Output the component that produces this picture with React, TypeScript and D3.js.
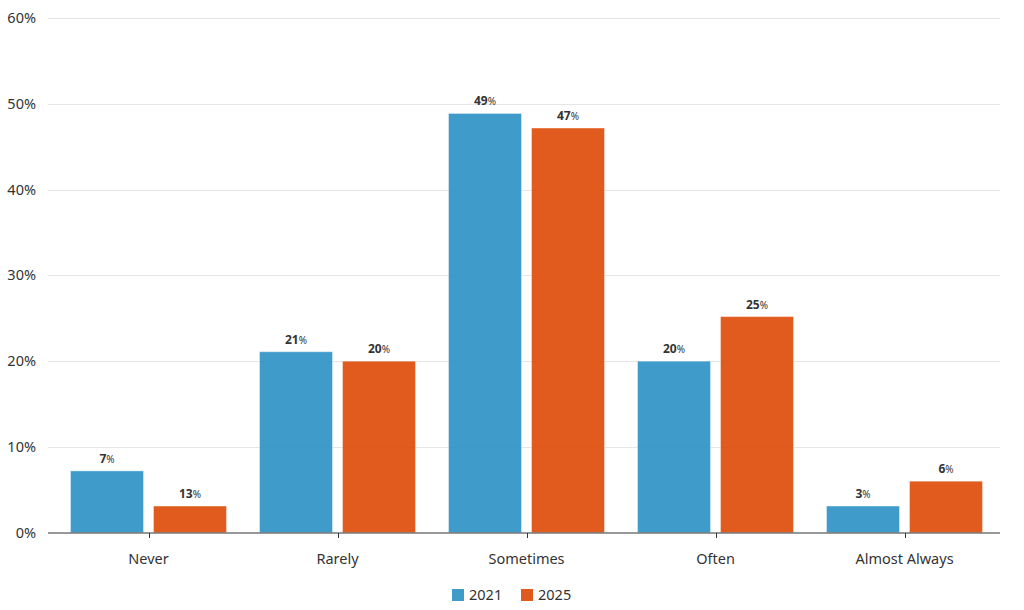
import { useEffect, useRef } from 'react';
import * as d3 from 'd3';

const categories = ['Never', 'Rarely', 'Sometimes', 'Often', 'Almost Always'];
const seriesNames = ['2021', '2025'];
const values2021 = [7.2, 21.1, 48.9, 20, 3.1];
const values2025 = [3.1, 20, 47.2, 25.2, 6];
const labels2021 = ['7', '21', '49', '20', '3'];
const labels2025 = ['13', '20', '47', '25', '6'];
const yTicks = [0, 10, 20, 30, 40, 50, 60];
const colors = ['#2f93c5', '#de4c0b'];
const legendColors = ['#3f9bc9', '#e05a1e'];

export default function App() {
    const svgRef = useRef<SVGSVGElement>(null);

    useEffect(() => {
        if (!svgRef.current) return;
        document.body.style.margin = '0';

        const svg = d3.select(svgRef.current);
        svg.selectAll('*').remove();

        const width = 1024;
        const height = 610;
        const plotLeft = 48;
        const plotRight = 1000;

        const x0 = d3.scaleBand<string>()
            .domain(categories)
            .range([54, 999]);

        const x1 = d3.scaleBand<string>()
            .domain(seriesNames)
            .range([16.5, 172.5])
            .paddingInner(0.1205);

        const y = d3.scaleLinear()
            .domain([0, 60])
            .range([532.6, 18.3]);

        const font = '"Noto Sans", "Open Sans", sans-serif';

        svg.attr('width', width).attr('height', height).style('font-family', font);

        // Grid lines
        svg.append('g')
            .selectAll('line')
            .data(yTicks.filter(t => t > 0))
            .enter()
            .append('line')
            .attr('x1', plotLeft)
            .attr('x2', plotRight)
            .attr('y1', d => Math.round(y(d)) + 0.5)
            .attr('y2', d => Math.round(y(d)) + 0.5)
            .attr('stroke', '#e6e6e6')
            .attr('stroke-width', 1);

        // Y labels
        svg.append('g')
            .selectAll('text')
            .data(yTicks)
            .enter()
            .append('text')
            .attr('x', 36)
            .attr('y', d => y(d) + 5)
            .attr('text-anchor', 'end')
            .attr('font-size', 14.5)
            .attr('fill', '#333333')
            .text(d => `${d}%`);

        // Bars
        const series = [values2021, values2025];
        const labelSets = [labels2021, labels2025];

        series.forEach((vals, si) => {
            const name = seriesNames[si];
            const g = svg.append('g');
            g.selectAll('rect')
                .data(vals)
                .enter()
                .append('rect')
                .attr('x', (d, i) => (x0(categories[i]) || 0) + (x1(name) || 0))
                .attr('y', d => y(d))
                .attr('width', x1.bandwidth())
                .attr('height', d => y(0) - y(d))
                .attr('fill', colors[si])
                .attr('fill-opacity', 0.92)
                .attr('stroke', '#ffffff')
                .attr('stroke-opacity', 0.4)
                .attr('stroke-width', 1);

            const lg = svg.append('g');
            const texts = lg.selectAll('text')
                .data(vals)
                .enter()
                .append('text')
                .attr('x', (d, i) => (x0(categories[i]) || 0) + (x1(name) || 0) + x1.bandwidth() / 2)
                .attr('y', d => y(d) - 8)
                .attr('text-anchor', 'middle')
                .attr('fill', '#333333');
            texts.append('tspan')
                .attr('font-size', 12)
                .attr('font-weight', 'bold')
                .text((d, i) => labelSets[si][i]);
            texts.append('tspan')
                .attr('font-size', 10)
                .text('%');
        });

        // X axis line
        svg.append('line')
            .attr('x1', plotLeft)
            .attr('x2', plotRight)
            .attr('y1', 533)
            .attr('y2', 533)
            .attr('stroke', '#333333')
            .attr('stroke-width', 1);

        // Ticks and category labels
        const xg = svg.append('g');
        xg.selectAll('line')
            .data(categories)
            .enter()
            .append('line')
            .attr('x1', d => Math.round((x0(d) || 0) + x0.bandwidth() / 2) + 0.5)
            .attr('x2', d => Math.round((x0(d) || 0) + x0.bandwidth() / 2) + 0.5)
            .attr('y1', 533)
            .attr('y2', 538)
            .attr('stroke', '#333333');
        xg.selectAll('text')
            .data(categories)
            .enter()
            .append('text')
            .attr('x', d => (x0(d) || 0) + x0.bandwidth() / 2)
            .attr('y', 564)
            .attr('text-anchor', 'middle')
            .attr('font-size', 14.5)
            .attr('fill', '#333333')
            .text(d => d);

        // Legend
        const legend = svg.append('g');
        const legendX = [452, 521];
        seriesNames.forEach((name, i) => {
            legend.append('rect')
                .attr('x', legendX[i])
                .attr('y', 589)
                .attr('width', 12)
                .attr('height', 12)
                .attr('fill', legendColors[i]);
            legend.append('text')
                .attr('x', legendX[i] + 17)
                .attr('y', 600)
                .attr('font-size', 14.5)
                .attr('fill', '#333333')
                .text(name);
        });
    }, []);

    return (
        <div style={{ position: 'absolute', left: 0, top: 0, width: 1024, height: 610, background: '#fff' }}>
            <svg ref={svgRef} />
        </div>
    );
}
